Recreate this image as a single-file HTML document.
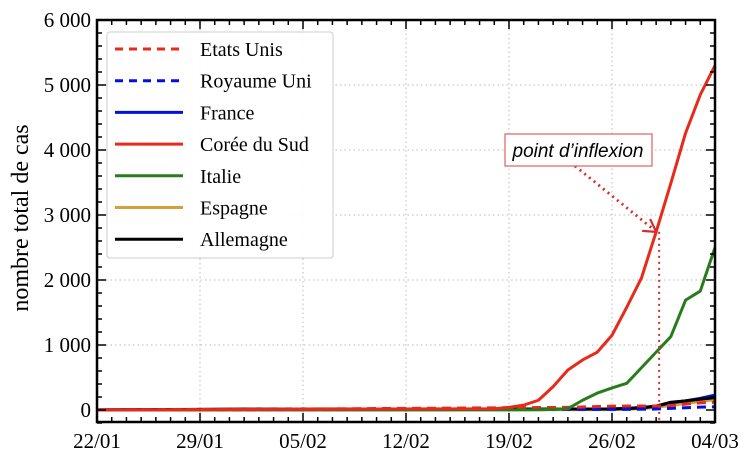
<!DOCTYPE html>
<html><head><meta charset="utf-8"><style>
body{margin:0;background:#fff;}
svg{display:block;font-family:"Liberation Serif",serif;}
</style></head><body>
<svg id="c" width="754" height="455"></svg>
<script>
const dates=["22/01","29/01","05/02","12/02","19/02","26/02","04/03"];
const yTicks=[0,1000,2000,3000,4000,5000,6000];
const yTickLabels=["0","1 000","2 000","3 000","4 000","5 000","6 000"];
// day index 0 = 22/01
const koreaDays=[0,27,28,29,30,31,32,33,34,35,36,37,38,39,40,41,42];
const korea=[1,20,40,75,150,360,615,770,890,1150,1580,2030,2740,3490,4260,4850,5300];
const italyDays=[0,30,31,32,33,34,35,36,37,38,39,40,41,42];
const italy=[0,3,10,20,150,260,340,410,650,890,1130,1690,1830,2500];
const usDays=[0,10,32,35,38,39,40,41,42];
const us=[1,10,40,60,62,70,90,110,120];
const ukDays=[0,36,38,39,40,41,42];
const uk=[0,10,15,25,35,45,50];
const franceDays=[0,10,35,37,38,39,40,41,42];
const france=[3,12,15,40,60,110,140,180,230];
const spainDays=[0,35,37,38,39,40,41,42];
const spain=[0,5,20,40,70,100,130,160];
const germanyDays=[0,10,35,37,38,39,40,41,42];
const germany=[0,14,16,30,60,120,140,165,190];

const svg=document.getElementById('c');const NS="http://www.w3.org/2000/svg";
const L=97,R=715,T=20,B=422;
const X=d=>L+d*(R-L)/42;
const Y=v=>410-v*0.065;
function el(t,a,p){const e=document.createElementNS(NS,t);for(const k in a)e.setAttribute(k,a[k]);(p||svg).appendChild(e);return e;}
yTicks.forEach((v,i)=>{if(i>0&&i<6){const g=el('line',{x1:L,x2:R,y1:Y(v),y2:Y(v),stroke:'#bbb','stroke-dasharray':'1.5,3'});

}});
dates.forEach((d,i)=>{if(i>0&&i<6){const g=el('line',{x1:X(i*7),x2:X(i*7),y1:T,y2:B,stroke:'#bbb','stroke-dasharray':'1.5,3'});

}});
function series(name,days,vals,color,dash){const pts=days.map((d,i)=>X(d)+','+Y(vals[i])).join(' ');
const p=el('polyline',{points:pts,fill:'none',stroke:color,'stroke-width':3,'stroke-dasharray':dash||'none','stroke-linejoin':'round'});

}
series('series-espagne',spainDays,spain,'#d4a03c');
series('series-france',franceDays,france,'#0010e0');
series('series-allemagne',germanyDays,germany,'#000');
series('series-royaume-uni',ukDays,uk,'#0010e0','9,6');
series('series-etats-unis',usDays,us,'#e82a1a','9,6');
series('series-italie',italyDays,italy,'#2a7a1e');
series('series-coree-du-sud',koreaDays,korea,'#e82a1a');
const ax=X(38),ay=Y(korea[12]);
let a=el('line',{x1:ax+3,x2:ax+3,y1:ay,y2:B,stroke:'#d03030','stroke-width':2,'stroke-dasharray':'2,4'});

a=el('line',{x1:575,y1:166,x2:ax-2,y2:ay-2,stroke:'#d03030','stroke-width':2.8,'stroke-dasharray':'2,4'});

a=el('polyline',{points:`${ax-14},${ay-1} ${ax},${ay} ${ax-6},${ay-13}`,fill:'none',stroke:'#d03030','stroke-width':2.2});

a=el('rect',{x:505,y:134,width:147,height:32,fill:'#fff',stroke:'#e06060','stroke-width':1.2});

a=el('text',{x:578,y:157,'text-anchor':'middle','font-size':19,'font-style':'italic','font-family':'Liberation Sans, sans-serif'});a.textContent="point d’inflexion";

a=el('rect',{x:L,y:T,width:R-L,height:B-T,fill:'none',stroke:'#000','stroke-width':2.5});

for(let v=-200;v<=6000;v+=200){const maj=v%1000===0;const len=maj?9:5;
el('line',{x1:L,x2:L+len,y1:Y(v),y2:Y(v),stroke:'#000','stroke-width':1.5});
el('line',{x1:R,x2:R-len,y1:Y(v),y2:Y(v),stroke:'#000','stroke-width':1.5});}
for(let d=0;d<=42;d++){const maj=d%7===0;const len=maj?9:5;
el('line',{x1:X(d),x2:X(d),y1:B,y2:B-len,stroke:'#000','stroke-width':1.5});
el('line',{x1:X(d),x2:X(d),y1:T,y2:T+len,stroke:'#000','stroke-width':1.5});}
yTicks.forEach((v,i)=>{const t=el('text',{x:L-6,y:Y(v)+7,'text-anchor':'end','font-size':21});t.textContent=yTickLabels[i];

});
dates.forEach((d,i)=>{const t=el('text',{x:X(i*7),y:448,'text-anchor':'middle','font-size':21});t.textContent=d;

});
a=el('text',{x:0,y:0,transform:'translate(28,218) rotate(-90)','text-anchor':'middle','font-size':24});a.textContent='nombre total de cas';

const lg=el('g',{});
el('rect',{x:107,y:32,width:226,height:226,rx:3,fill:'#fff','fill-opacity':0.9,stroke:'#ccc'},lg);
const leg=[['Etats Unis','#e82a1a','8,6'],['Royaume Uni','#0010e0','8,6'],['France','#0010e0',''],['Corée du Sud','#e82a1a',''],['Italie','#2a7a1e',''],['Espagne','#d4a03c',''],['Allemagne','#000','']];
leg.forEach((e,i)=>{const y=49+i*31.7;const g=el('g',{},lg);


el('line',{x1:115,x2:183,y1:y,y2:y,stroke:e[1],'stroke-width':3,'stroke-dasharray':e[2]||'none'},g);
const t=el('text',{x:200,y:y+7,'font-size':20},g);t.textContent=e[0];});
</script>
</body></html>
